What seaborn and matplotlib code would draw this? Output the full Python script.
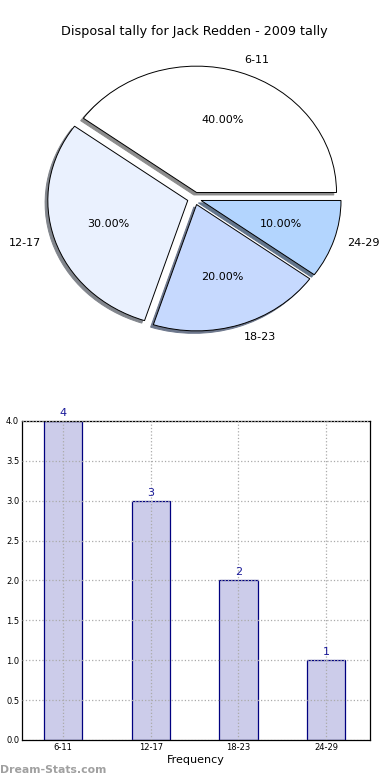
import numpy as np
import pandas as pd
import matplotlib
matplotlib.use("Agg")
import matplotlib.pyplot as plt
import seaborn as sns

bins = ["6-11", "12-17", "18-23", "24-29"]
counts = [4, 3, 2, 1]
slice_colors = ["#ffffff", "#eaf1fe", "#c6d9fe", "#b3d5fe"]

sns.set_style("white")
plt.rcParams['font.family'] = ['DejaVu Sans']
plt.rcParams['text.color'] = 'black'
plt.rcParams['xtick.color'] = 'black'
plt.rcParams['ytick.color'] = 'black'
plt.rcParams['axes.labelcolor'] = 'black'

fig = plt.figure(figsize=(3.9, 7.8), dpi=100)

# pie on top
ax1 = fig.add_axes([0.05, 0.543, 0.897, 0.405])
ax1.pie(counts, labels=bins, colors=slice_colors, explode=[0.05] * 4,
        autopct="%.2f%%", startangle=0,
        shadow={"ox": -0.014, "oy": -0.014, "shade": 0.45, "alpha": 1.0},
        wedgeprops={"edgecolor": "black", "linewidth": 0.7},
        textprops={"fontsize": 8, "color": "black"})
ax1.set_aspect("auto")
ax1.set_xlim(-1.25, 1.25)
ax1.set_ylim(-1.25, 1.25)
ax1.set_title("Disposal tally for Jack Redden - 2009 tally", fontsize=9.2, pad=4,
              color="black")

# bars below
df = pd.DataFrame({"bin": bins, "count": counts})
ax2 = fig.add_axes([0.0564, 0.0513, 0.892, 0.409])
sns.barplot(data=df, x="bin", y="count", ax=ax2, color="#ccccea",
            edgecolor="#000080", linewidth=0.9, width=0.44, saturation=1)
for i, c in enumerate(counts):
    ax2.text(i, c + 0.04, str(c), ha="center", va="bottom", fontsize=8, color="#1a1a99")
ax2.set_xlim(-0.47, 3.5)
ax2.set_ylim(0, 4.0)
ax2.set_yticks(np.arange(0, 4.01, 0.5))
ax2.set_yticklabels([f"{v:.1f}" for v in np.arange(0, 4.01, 0.5)])
ax2.grid(True, linestyle=":", color="#aaaaaa", linewidth=0.9)
ax2.set_axisbelow(False)
ax2.tick_params(labelsize=6, direction="in", length=3, pad=2)
ax2.set_xlabel("Frequency", fontsize=8, labelpad=2)
ax2.set_ylabel("")
for s in ax2.spines.values():
    s.set_color("black")
    s.set_linewidth(0.9)

fig.text(0.0, 0.0128, "Dream-Stats.com", fontsize=7.8, color="#a0a0a0",
         fontweight="bold", ha="left", va="center")

fig.savefig("out.png", dpi=100)
